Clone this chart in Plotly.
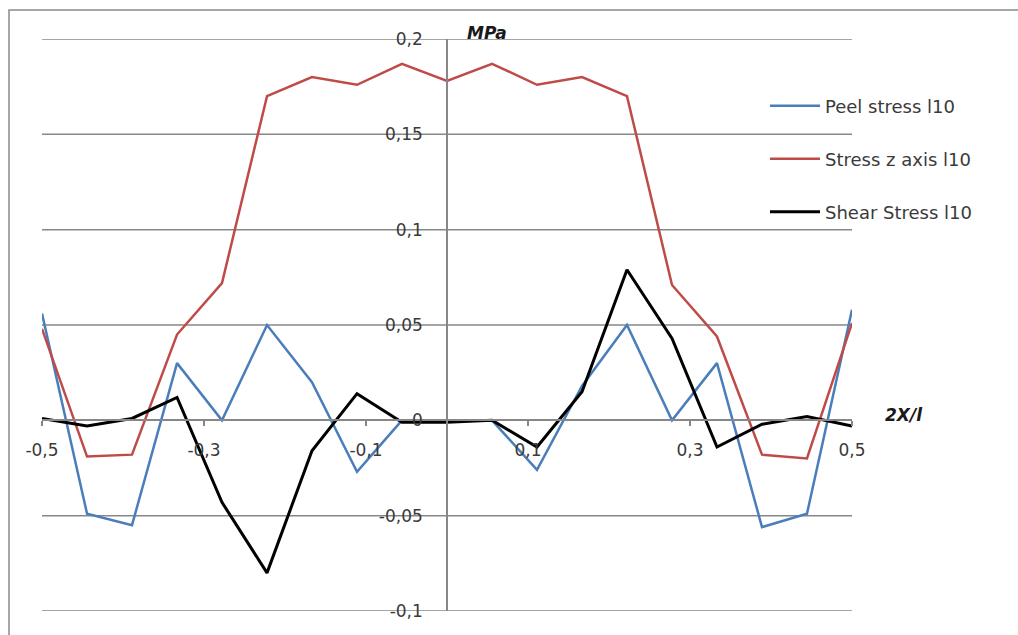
import plotly.graph_objects as go

# Position along the joint, 2X/l
x_pos = [-0.5, -0.4444, -0.3889, -0.3333, -0.2778, -0.2222, -0.1667, -0.1111, -0.0556,
         0.0, 0.0556, 0.1111, 0.1667, 0.2222, 0.2778, 0.3333, 0.3889, 0.4444, 0.5]

# Stresses in MPa
peel_stress = [0.056, -0.049, -0.055, 0.030, 0.0, 0.050, 0.020, -0.027, 0.0,
               0.0, 0.0, -0.026, 0.018, 0.050, 0.0, 0.030, -0.056, -0.049, 0.058]
stress_z = [0.048, -0.019, -0.018, 0.045, 0.072, 0.170, 0.180, 0.176, 0.187,
            0.178, 0.187, 0.176, 0.180, 0.170, 0.071, 0.044, -0.018, -0.020, 0.051]
shear_stress = [0.001, -0.003, 0.001, 0.012, -0.043, -0.080, -0.016, 0.014, -0.001,
                -0.001, 0.0, -0.014, 0.015, 0.079, 0.043, -0.014, -0.002, 0.002, -0.003]

series_names = ["Peel stress l10", "Stress z axis l10", "Shear Stress l10"]

x_tick_vals = [-0.5, -0.3, -0.1, 0.1, 0.3, 0.5]
x_tick_text = ["-0,5", "-0,3", "-0,1", "0,1", "0,3", "0,5"]
y_tick_vals = [-0.1, -0.05, 0.0, 0.05, 0.1, 0.15, 0.2]
y_tick_text = ["-0,1", "-0,05", "0", "0,05", "0,1", "0,15", "0,2"]

FONT = "DejaVu Sans"
GRID = "#878787"
TEXT = "#3a3a3a"

fig = go.Figure()
fig.add_trace(go.Scatter(x=x_pos, y=peel_stress, mode="lines", name=series_names[0],
                         line=dict(color="#4a7ebb", width=2.5), legend="legend"))
fig.add_trace(go.Scatter(x=x_pos, y=stress_z, mode="lines", name=series_names[1],
                         line=dict(color="#be4b48", width=2.5), legend="legend2"))
fig.add_trace(go.Scatter(x=x_pos, y=shear_stress, mode="lines", name=series_names[2],
                         line=dict(color="#000000", width=3), legend="legend3"))

PLOT_L, PLOT_R, PLOT_T, PLOT_B = 42, 852, 39, 611
W, H = 1018, 635
pw, ph = PLOT_R - PLOT_L, PLOT_B - PLOT_T


def px_x(p):
    return (p - PLOT_L) / pw


def px_y(p):
    return (PLOT_B - p) / ph


def legend_at(row_y):
    return dict(x=px_x(765), xanchor="left", y=px_y(row_y), yanchor="middle",
                bgcolor="rgba(0,0,0,0)", borderwidth=0, itemwidth=50,
                font=dict(family=FONT, size=18, color=TEXT))


# Horizontal grid lines, drawn as shapes so the ones lying on the
# axis line and on the range edges are kept as well
grid_shapes = [
    dict(type="line", xref="paper", yref="y", x0=0, x1=1, y0=v, y1=v,
         line=dict(color=GRID, width=1.5), layer="below")
    for v in y_tick_vals
]

fig.update_layout(
    width=W, height=H,
    margin=dict(l=PLOT_L, r=W - PLOT_R, t=PLOT_T, b=H - PLOT_B),
    paper_bgcolor="white", plot_bgcolor="white",
    font=dict(family=FONT, size=17, color=TEXT),
    showlegend=True,
    legend=legend_at(106),
    legend2=legend_at(159),
    legend3=legend_at(212),
    xaxis=dict(range=[-0.5, 0.5], anchor="free", position=1 / 3,
               showgrid=False, zeroline=False,
               showline=True, linecolor=GRID, linewidth=1.5,
               tickvals=x_tick_vals, ticktext=x_tick_text,
               ticks="outside", ticklen=5, tickcolor=GRID, tickwidth=1.5,
               ticklabelstandoff=10,
               tickfont=dict(family=FONT, size=17, color=TEXT)),
    yaxis=dict(range=[-0.1, 0.2], anchor="free", position=0.5,
               showgrid=False, zeroline=False,
               showline=True, linecolor=GRID, linewidth=1.5,
               tickvals=y_tick_vals, ticktext=y_tick_text,
               ticks="", ticklabelstandoff=20,
               tickfont=dict(family=FONT, size=17, color=TEXT)),
    annotations=[
        dict(text="<b><i>MPa</i></b>", x=px_x(465), y=px_y(33), xref="paper", yref="paper",
             xanchor="left", yanchor="middle", showarrow=False,
             font=dict(family=FONT, size=17, color="#1a1a1a")),
        dict(text="<b><i>2X/l</i></b>", x=px_x(883), y=px_y(415), xref="paper", yref="paper",
             xanchor="left", yanchor="middle", showarrow=False,
             font=dict(family=FONT, size=17, color="#1a1a1a")),
    ],
    shapes=grid_shapes + [
        dict(type="rect", xref="paper", yref="paper",
             x0=px_x(9), x1=px_x(W + 20), y0=px_y(H + 20), y1=px_y(10),
             line=dict(color="#8a8a8a", width=1.5), layer="below"),
    ],
)

fig.write_html("out.html")
